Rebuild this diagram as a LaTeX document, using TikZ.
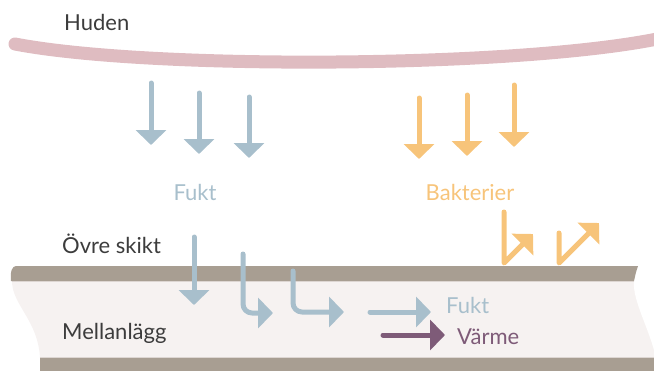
\documentclass[tikz,border=0pt]{standalone}
\usepackage{fontspec}
\setmainfont{Lato}
\usetikzlibrary{arrows.meta}
\definecolor{skin}{HTML}{DFBCC1}
\definecolor{band}{HTML}{A89E92}
\definecolor{layerfill}{HTML}{F6F2F1}
\definecolor{edge}{HTML}{DDD6D2}
\definecolor{fukt}{HTML}{A8BFCC}
\definecolor{bakt}{HTML}{F7C47A}
\definecolor{varme}{HTML}{7E5B78}
\definecolor{txt}{HTML}{3C3C3C}
\tikzset{
  arr/.style={line width=5pt, line cap=round, line join=round,
    -{Triangle[length=15pt,width=30pt]}},
  lbl/.style={inner sep=0pt, font=\fontsize{22}{26}\selectfont},
}
\begin{document}
\begin{tikzpicture}[x=1pt,y=-1pt]
\useasboundingbox (0,0) rectangle (654,370);
\begin{scope}
\clip (0,0) rectangle (654,370);
% skin
\draw[skin, line width=13pt, line cap=round] (15,44) .. controls (150,70) and (520,68) .. (662,38);
% layers
\fill[layerfill] (12,281) .. controls (12,305) and (38,320) .. (40,358) -- (660,358) -- (660,281) -- cycle;
\fill[white] (634,281) .. controls (632,300) and (650,330) .. (656,358) -- (660,358) -- (660,260) -- (638,260) -- cycle;
\fill[band] (16,266) -- (638,266) .. controls (636,272) .. (634,281) -- (11,281) .. controls (10,272) and (12,266) .. (16,266) -- cycle;
\draw[edge, line width=1.2pt] (11.5,281.6) -- (634,281.6);
\fill[band] (40,358) -- (660,358) -- (660,375) -- (40,375) -- cycle;
\draw[edge, line width=1.2pt] (40,357.4) -- (660,357.4);
\end{scope}
% texts
\node[lbl, text=txt, anchor=west] (huden) at (64,22) {Huden};
\node[lbl, text=fukt] (fukt1) at (195,192) {Fukt};
\node[lbl, text=bakt] (bakt) at (470,192) {Bakterier};
\node[lbl, text=txt, anchor=west] (ovre) at (62,244) {Övre skikt};
\node[lbl, text=txt, anchor=west] (mellan) at (62,333) {Mellanlägg};
\node[lbl, text=fukt, anchor=west] (fukt2) at (446,305) {Fukt};
\node[lbl, text=varme, anchor=west] (varme) at (457,337) {Värme};
% blue down arrows
\draw[arr, fukt] (151,83) -- (151,145);
\draw[arr, fukt] (199,93) -- (199,154);
\draw[arr, fukt] (249,97) -- (249,158);
% orange down arrows
\draw[arr, bakt] (419,98) -- (419,159);
\draw[arr, bakt] (467,95) -- (467,156);
\draw[arr, bakt] (514,85) -- (514,147);
% inner blue arrows
\draw[arr, fukt] (194,237) -- (194,305);
\draw[arr, fukt, rounded corners=9pt] (243,254) |- (273,313);
\draw[arr, fukt, rounded corners=9pt] (293,271) |- (344,312);
\draw[arr, fukt] (370,312) -- (431,312);
\draw[arr, varme] (383,335) -- (445,335);
% orange bent arrows
\draw[arr, bakt] (504,212) -- (504,263) -- (533,234);
\draw[arr, bakt] (559,233) -- (559,263) -- (599,223);
\end{tikzpicture}
\end{document}
